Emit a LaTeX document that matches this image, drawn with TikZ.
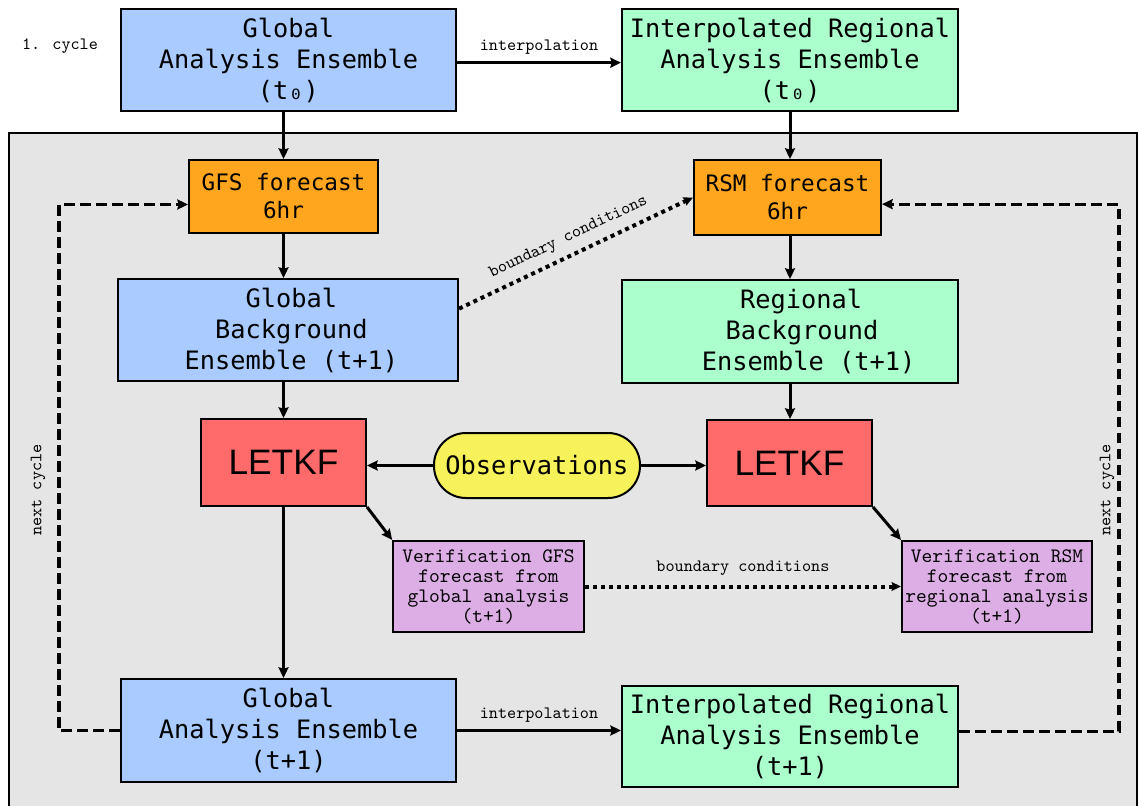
\documentclass[tikz,border=0pt]{standalone}
\usepackage{fontspec}
\newfontfamily\bigmono{DejaVu Sans Mono}
\newfontfamily\sansf{Liberation Sans}
\newfontfamily\smallmono{lmmono10-regular}[Extension=.otf]
\usetikzlibrary{arrows.meta}
\definecolor{cblue}{RGB}{169,203,255}
\definecolor{cgreen}{RGB}{170,255,204}
\definecolor{corange}{RGB}{255,166,30}
\definecolor{cred}{RGB}{255,107,107}
\definecolor{cyellow}{RGB}{247,242,90}
\definecolor{cpurple}{RGB}{221,174,230}
\definecolor{cgrey}{RGB}{229,229,229}
\begin{document}
\begin{tikzpicture}[x=0.75pt,y=-0.75pt,
  box/.style={draw=black, line width=1.5pt, inner sep=0pt, align=center},
  bigbox/.style={box, font=\bigmono\fontsize{19}{23.25}\selectfont},
  fcbox/.style={box, fill=corange, font=\bigmono\fontsize{17}{21}\selectfont},
  letbox/.style={box, fill=cred, font=\sansf\fontsize{26.5}{30}\selectfont, minimum width=123.75pt},
  verbox/.style={box, fill=cpurple, font=\smallmono\fontsize{15.4}{15}\selectfont, minimum width=143pt, minimum height=68.25pt},
  lbl/.style={font=\smallmono\fontsize{13}{15}\selectfont, inner sep=1pt},
  arr/.style={line width=2.25pt, -{Stealth[length=8pt,width=7.5pt,inset=1pt]}},
  dashedarr/.style={line width=2.4pt, dash pattern=on 8pt off 4pt, -{Stealth[length=8pt,width=7.5pt,inset=1pt]}},
  dottedarr/.style={line width=3pt, dash pattern=on 3pt off 3pt, -{Stealth[length=7pt,width=6.5pt,inset=1pt]}}
]
\useasboundingbox (0,0) rectangle (1139,806);
\fill[white] (0,0) rectangle (1139,806);
\draw[fill=cgrey, line width=1pt] (9,133) rectangle (1137,815);

\node[lbl] (cyc) at (60,46) {1. cycle};

\node[bigbox, fill=cblue, minimum width=251.25pt, minimum height=76.5pt] (gae0) at (288.5,60) {Global\\Analysis Ensemble\\(t₀)};
\node[bigbox, fill=cgreen, minimum width=252pt, minimum height=76.5pt] (irae0) at (790,60) {Interpolated Regional\\Analysis Ensemble\\(t₀)};

\node[fcbox, minimum width=141.75pt, minimum height=54.75pt] (gfs) at (283.5,196.5) {GFS forecast\\6hr};
\node[fcbox, minimum width=140.25pt, minimum height=56.25pt] (rsm) at (787.5,197.5) {RSM forecast\\6hr};

\node[bigbox, fill=cblue, minimum width=255pt, minimum height=76.5pt] (gbe) at (288,330) {\hspace*{5pt}Global\\\hspace*{5pt}Background\\\hspace*{5pt}Ensemble (t+1)};
\node[bigbox, fill=cgreen, minimum width=252pt, minimum height=77.25pt] (rbe) at (790,331.5) {\hspace*{16.5pt}Regional\\\hspace*{18pt}Background\\\hspace*{28pt}Ensemble (t+1)};

\node[letbox, minimum height=65.25pt] (let1) at (283.5,462.5) {LETKF};
\node[letbox, minimum height=64.5pt] (let2) at (789.5,463) {LETKF};
\node[box, fill=cyellow, rounded corners=24pt, minimum width=154.5pt, minimum height=48.75pt, font=\bigmono\fontsize{19}{23}\selectfont] (obs) at (537,465.5) {\raisebox{-1.5pt}{Observations}};

\node[verbox] (vgfs) at (488.5,586.5) {Verification GFS\\forecast from\\global analysis\\(t+1)};
\node[verbox, minimum width=142.5pt] (vrsm) at (997,586.5) {Verification RSM\\forecast from\\regional analysis\\(t+1)};

\node[bigbox, fill=cblue, minimum width=251.25pt, minimum height=77.25pt] (gae1) at (288.5,730.5) {Global\\Analysis Ensemble\\(t+1)};
\node[bigbox, fill=cgreen, minimum width=252pt, minimum height=75.75pt] (irae1) at (790,736.5) {Interpolated Regional\\Analysis Ensemble\\(t+1)};

% top interpolation
\draw[arr] ([yshift=-2pt]gae0.east) -- ([yshift=-2pt]gae0.east -| irae0.west) node[lbl, midway, above=4pt] (int0) {interpolation};
% vertical arrows left
\draw[arr] (gae0.south -| gfs.north) -- (gfs.north);
\draw[arr] (gfs.south) -- (gfs.south |- gbe.north);
\draw[arr] (gbe.south -| let1.north) -- (let1.north);
\draw[arr] (let1.south) -- (let1.south |- gae1.north);
% vertical arrows right
\draw[arr] (irae0.south) -- (irae0.south |- rsm.north);
\draw[arr] (rsm.south -| rbe.north) -- (rbe.north);
\draw[arr] (rbe.south) -- (rbe.south |- let2.north);
% observations
\draw[arr] (obs.west) -- (obs.west -| let1.east);
\draw[arr] (obs.east) -- (obs.east -| let2.west);
% diagonals
\draw[arr] (let1.south east) -- (vgfs.north west);
\draw[arr] (let2.south east) -- (vrsm.north west);
% boundary conditions
\draw[dottedarr] ([yshift=16pt]gbe.east) -- (rsm.west) node[lbl, midway, above=5pt, sloped] (bc1) {boundary conditions};
\draw[dottedarr] (vgfs.east) -- (vrsm.west) node[lbl, midway, above=6pt] (bc2) {boundary conditions};
% bottom interpolation
\draw[arr] (gae1.east) -- (gae1.east -| irae1.west) node[lbl, midway, above=4pt] (int1) {interpolation};
% next cycle loops
\draw[dashedarr] (gae1.west) -- ++(-61,0) |- ([yshift=-6pt]gfs.west);
\draw[dashedarr] ([yshift=4pt]irae1.east) -- ++(160,0) |- ([yshift=-5pt]rsm.east);
\node[lbl, rotate=90] (nc1) at (38,490) {next cycle};
\node[lbl, rotate=90] (nc2) at (1107,490) {next cycle};
\end{tikzpicture}
\end{document}
